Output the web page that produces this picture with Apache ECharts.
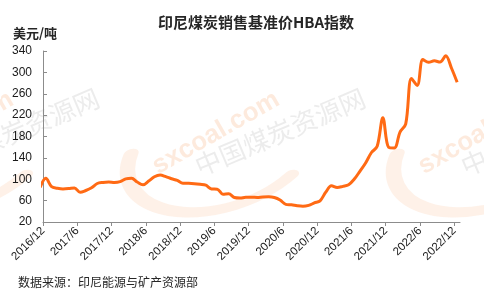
<!DOCTYPE html>
<html><head><meta charset="utf-8">
<script src="https://cdn.jsdelivr.net/npm/echarts@6/dist/echarts.min.js"></script>
<style>html,body{margin:0;padding:0;background:#fff}#c{width:484px;height:293px}</style>
</head><body><div id="c"></div>
<script>
const months = [
 '2016/11','2016/12',
 '2017/1','2017/2','2017/3','2017/4','2017/5','2017/6','2017/7','2017/8','2017/9','2017/10','2017/11','2017/12',
 '2018/1','2018/2','2018/3','2018/4','2018/5','2018/6','2018/7','2018/8','2018/9','2018/10','2018/11','2018/12',
 '2019/1','2019/2','2019/3','2019/4','2019/5','2019/6','2019/7','2019/8','2019/9','2019/10','2019/11','2019/12',
 '2020/1','2020/2','2020/3','2020/4','2020/5','2020/6','2020/7','2020/8','2020/9','2020/10','2020/11','2020/12',
 '2021/1','2021/2','2021/3','2021/4','2021/5','2021/6','2021/7','2021/8','2021/9','2021/10','2021/11','2021/12',
 '2022/1','2022/2','2022/3','2022/4','2022/5','2022/6','2022/7','2022/8','2022/9','2022/10','2022/11','2022/12'
];
const hba = [
 84.89, 101.69,
 86.23, 83.32, 81.90, 82.51, 83.81, 75.46, 78.95, 83.97, 92.03, 93.99, 94.80, 94.04,
 95.54, 100.69, 101.86, 94.75, 89.53, 96.61, 104.65, 107.83, 104.81, 100.89, 97.90, 92.51,
 92.41, 91.80, 90.57, 88.85, 81.86, 81.48, 71.92, 72.67, 65.79, 64.80, 66.27, 66.30,
 65.93, 66.89, 67.08, 65.77, 61.11, 52.98, 52.16, 50.34, 49.42, 51.00, 55.71, 59.65,
 75.84, 87.79, 84.47, 86.68, 89.74, 100.33, 115.35, 130.99, 150.03, 161.63, 215.01, 159.79,
 158.50, 188.38, 203.69, 288.40, 275.64, 323.91, 319.00, 321.59, 319.22, 330.97, 308.16, 281.48
];
const xTickLabels = ['2016/12','2017/6','2017/12','2018/6','2018/12','2019/6','2019/12','2020/6','2020/12','2021/6','2021/12','2022/6','2022/12'];
const yMin = 20, yMax = 340, yStep = 40;
const titleText = '印尼煤炭销售基准价HBA指数';
const unitText = '美元/吨';
const sourceText = '数据来源：印尼能源与矿产资源部';

function monthIndex(lbl){ const p = lbl.split('/'); return (+p[0]-2016)*12 + (+p[1]) - 12; }
const tickVals = xTickLabels.map(monthIndex);
const labelMap = {}; xTickLabels.forEach(l => labelMap[monthIndex(l)] = l);
const seriesData = months.map((m,i) => [monthIndex(m) + 0.5, hba[i]]);

const FONT = '"Noto Sans CJK SC", "Liberation Sans", sans-serif';
function watermark(dx){
  return [
    {type:'group', x:222+dx, y:150, rotation:0.33, scaleY:0.58, z:-10, silent:true, children:[
      {type:'arc', shape:{cx:0, cy:0, r:98, startAngle:0.3*Math.PI, endAngle:1.15*Math.PI, clockwise:true},
       style:{stroke:'rgba(252,200,165,0.25)', lineWidth:16, fill:null, lineCap:'round'}, z:-10}
    ]},
    {type:'text', x:216+dx, y:133, rotation:0.52, z:-9, silent:true,
     style:{text:'sxcoal.com', font:'bold 26px "Liberation Sans", sans-serif', fill:'rgba(250,190,150,0.32)', align:'center', verticalAlign:'middle'}},
    {type:'text', x:280+dx, y:132, rotation:0.40, z:-9, silent:true,
     style:{text:'中国煤炭资源网', font:'26px "Noto Sans CJK SC", sans-serif', fill:'rgba(170,170,170,0.22)', align:'center', verticalAlign:'middle'}}
  ];
}

const chart = echarts.init(document.getElementById('c'), null, {renderer:'canvas'});
chart.setOption({
  animation:false,
  backgroundColor:'#fff',
  title:[
    {text:titleText, left:251, top:10, textAlign:'center', textStyle:{fontFamily:FONT, fontSize:15, fontWeight:'bold', color:'#262626'}},
    {text:unitText, left:8, top:22, textStyle:{fontFamily:FONT, fontSize:13, fontWeight:'bold', color:'#262626'}},
    {text:sourceText, left:13, top:271, textStyle:{fontFamily:FONT, fontSize:12, fontWeight:'normal', color:'#262626'}}
  ],
  graphic:[].concat(watermark(-266), watermark(0), watermark(266)),
  grid:{left:43, right:24, top:51, bottom:71, containLabel:false},
  xAxis:{
    type:'value', min:0, max:73,
    splitLine:{show:false},
    axisLine:{show:true, lineStyle:{color:'#8c8c8c', width:1}},
    axisTick:{show:true, length:4, customValues:tickVals, lineStyle:{color:'#8c8c8c'}},
    axisLabel:{customValues:tickVals, rotate:45, margin:7, fontFamily:'"Liberation Sans", sans-serif', fontSize:11.5, color:'#1a1a1a',
      formatter:v => labelMap[Math.round(v)] || ''}
  },
  yAxis:{
    type:'value', min:yMin, max:yMax, interval:yStep,
    splitLine:{show:false},
    axisLine:{show:true, lineStyle:{color:'#8c8c8c', width:1}},
    axisTick:{show:true, inside:true, length:4, lineStyle:{color:'#8c8c8c'}},
    axisLabel:{margin:11, fontFamily:'"Liberation Sans", sans-serif', fontSize:12, color:'#1a1a1a'}
  },
  series:[{
    type:'line', data:seriesData, showSymbol:false, smooth:0.35, clip:true,
    lineStyle:{color:'#FF6A14', width:3}, z:5
  }]
});
</script></body></html>
